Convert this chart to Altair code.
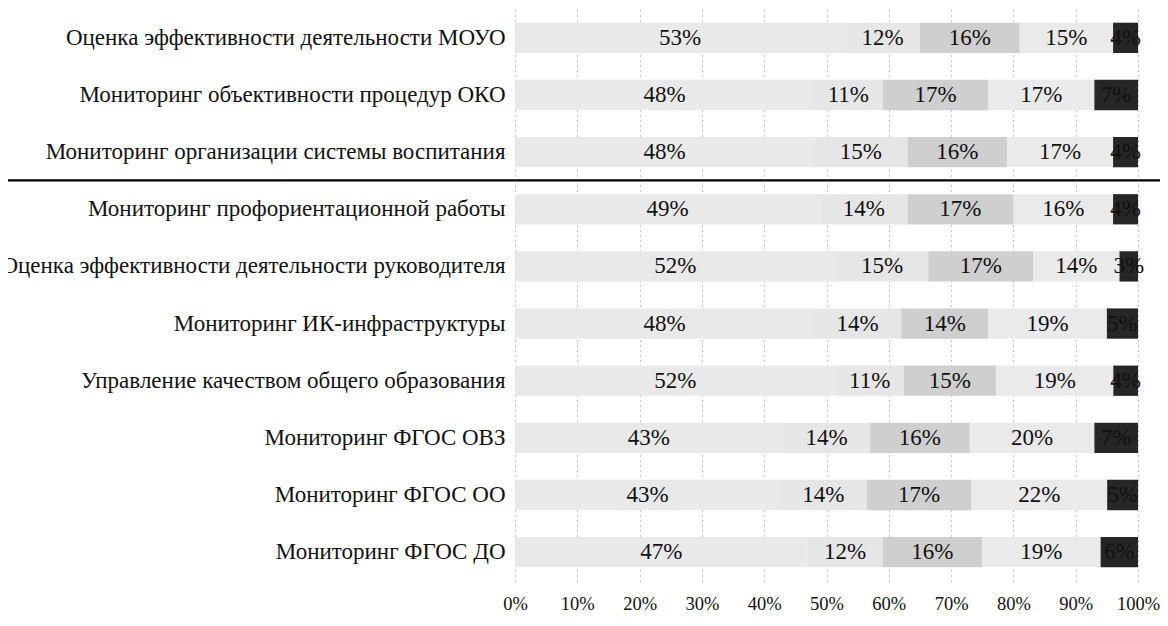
import altair as alt
import pandas as pd

categories = [
    "Оценка эффективности деятельности МОУО",
    "Мониторинг объективности процедур ОКО",
    "Мониторинг организации системы воспитания",
    "Мониторинг профориентационной работы",
    "Оценка эффективности деятельности руководителя",
    "Мониторинг ИК-инфраструктуры",
    "Управление качеством общего образования",
    "Мониторинг ФГОС ОВЗ",
    "Мониторинг ФГОС ОО",
    "Мониторинг ФГОС ДО",
]
series = ["Группа 1", "Группа 2", "Группа 3", "Группа 4", "Группа 5"]
s1 = [53, 48, 48, 49, 52, 48, 52, 43, 43, 47]
s2 = [12, 11, 15, 14, 15, 14, 11, 14, 14, 12]
s3 = [16, 17, 16, 17, 17, 14, 15, 16, 17, 16]
s4 = [15, 17, 17, 16, 14, 19, 19, 20, 22, 19]
s5 = [4, 7, 4, 4, 3, 5, 4, 7, 5, 6]
colors = ["#e9e9e9", "#e6e6e6", "#cfcfcf", "#eaeaea", "#262626"]
divider_after = ["Мониторинг организации системы воспитания"]

rows = []
for i, c in enumerate(categories):
    for j, (name, vals) in enumerate(zip(series, [s1, s2, s3, s4, s5])):
        rows.append({"cat": c, "series": name, "order": j, "value": vals[i]})
df = pd.DataFrame(rows)

FONT = "Liberation Serif"

base = alt.Chart(df).transform_joinaggregate(
    total="sum(value)", groupby=["cat"]
).transform_stack(
    stack="value", groupby=["cat"], as_=["v0", "v1"], sort=[alt.SortField("order")]
).transform_calculate(
    x0="datum.v0 / datum.total",
    x1="datum.v1 / datum.total",
    xm="(datum.v0 + datum.v1) / 2 / datum.total",
    label="datum.value + '%'",
)

yscale = alt.Scale(paddingInner=0.47, paddingOuter=0.24)

yenc = alt.Y(
    "cat:N",
    sort=categories,
    title=None,
    scale=yscale,
    axis=alt.Axis(
        domain=False, ticks=False, labelFont=FONT, labelFontSize=23,
        labelColor="#111", labelPadding=10, labelLimit=0,
    ),
)

bars = base.mark_bar().encode(
    x=alt.X(
        "x0:Q",
        scale=alt.Scale(domain=[0, 1], nice=False),
        title=None,
        axis=alt.Axis(
            values=[i / 10 for i in range(11)], format=".0%", domain=False, ticks=False,
            grid=True, gridColor="#8a8a8a", gridDash=[1, 4], gridWidth=1,
            labelFont=FONT, labelFontSize=18.5, labelColor="#111", labelPadding=13,
            labelFlush=False, labelOverlap=False,
        ),
    ),
    x2="x1:Q",
    y=yenc,
    color=alt.Color("series:N", scale=alt.Scale(domain=series, range=colors), legend=None),
)

texts = base.mark_text(font=FONT, fontSize=23, color="#111").encode(
    x="xm:Q",
    y=alt.Y("cat:N", sort=categories),
    text="label:N",
)

divider = alt.Chart(pd.DataFrame({"cat": divider_after})).mark_rule(
    color="#000", strokeWidth=2.2, yOffset=13
).encode(
    y=alt.Y("cat:N", sort=categories, bandPosition=1),
    x=alt.value(-520),
    x2=alt.value(660),
)

chart = alt.layer(bars, texts, divider).properties(
    width=623, height=572,
    autosize=alt.AutoSizeParams(type="none"),
    padding={"left": 507, "top": 1, "right": 22, "bottom": 37},
).configure_view(stroke=None)

chart.save("out.html", embed_options={"renderer": "svg", "actions": False})
